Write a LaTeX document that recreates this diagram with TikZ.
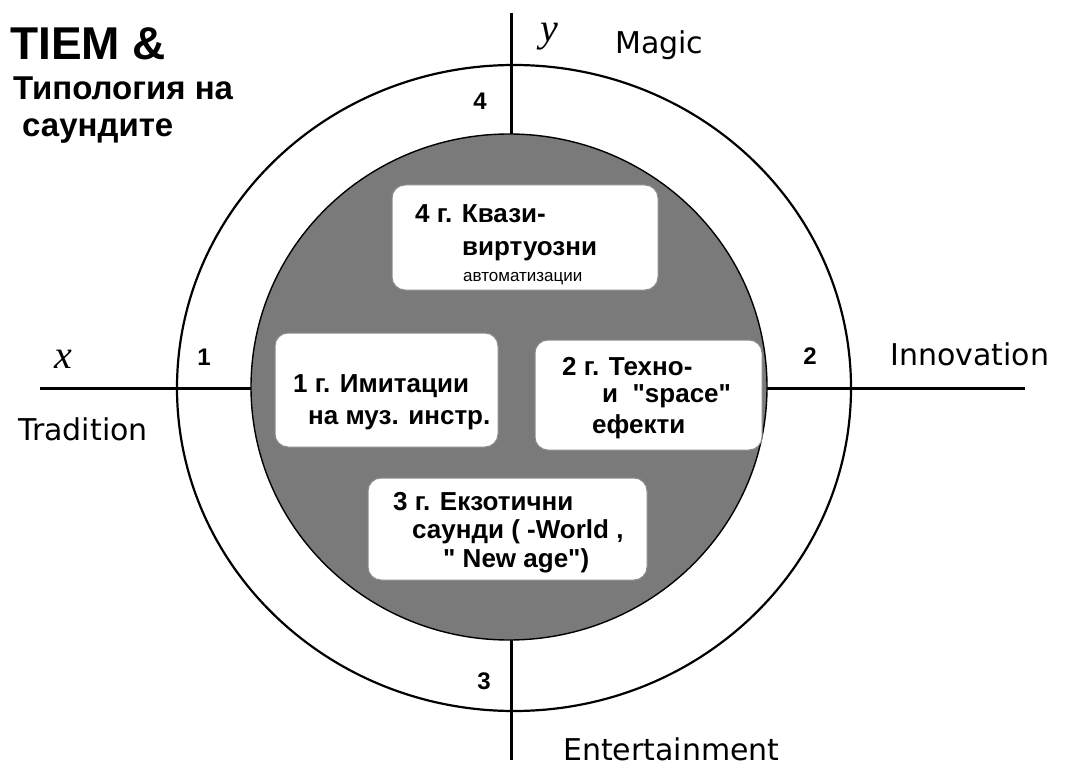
\documentclass[tikz,border=0pt]{standalone}
\usepackage{fontspec}
\setmainfont{Liberation Sans}
% plain family: keeps " as a straight quote
\newfontfamily\basefont{Liberation Sans}
\newfontfamily\lblfont{DejaVu Sans}
\newfontfamily\varfont{Liberation Serif}
\begin{document}
\begin{tikzpicture}[x=1pt,y=-1pt,
  axisline/.style={line width=3pt},
  ring/.style={line width=2.2pt},
  core/.style={draw=black,line width=1.4pt,fill=black!52},
  groupbox/.style={draw=black!45,line width=1pt,fill=white,rounded corners=13pt,
    rectangle,inner sep=0pt},
  title/.style={anchor=base west,inner sep=0pt,font=\basefont\bfseries\fontsize{46}{50}\selectfont},
  subtitle/.style={anchor=base west,inner sep=0pt,font=\basefont\bfseries\fontsize{33}{36}\selectfont},
  boxtext/.style={anchor=base west,inner sep=0pt,font=\basefont\bfseries\fontsize{26}{28}\selectfont},
  smalltext/.style={anchor=base west,inner sep=0pt,font=\basefont\fontsize{17}{19}\selectfont},
  pole/.style={anchor=base west,inner sep=0pt,font=\lblfont\fontsize{30}{33}\selectfont},
  quadnum/.style={inner sep=0pt,font=\basefont\bfseries\fontsize{24}{26}\selectfont},
  axisname/.style={anchor=base,inner sep=0pt,font=\varfont\itshape\fontsize{40}{42}\selectfont}]
\useasboundingbox (0,0) rectangle (1065,767);

% axes
\coordinate (xl) at (40,388);
\coordinate (xr) at (1025,388);
\coordinate (yt) at (511,13);
\coordinate (yb) at (511,760);
\draw[axisline] (xl) -- (xr);
\draw[axisline] (yt) -- (yb);

% outer ring and shaded core
\draw[ring] (514,388) ellipse [x radius=337pt, y radius=323pt];
\fill[core] (509,387) ellipse [x radius=258pt, y radius=253pt];

% group boxes
\node[groupbox,minimum width=266pt,minimum height=105pt] (g4) at (525,237.5) {};
\node[groupbox,minimum width=223pt,minimum height=114pt] (g1) at (386.5,390) {};
\node[groupbox,minimum width=227pt,minimum height=110pt] (g2) at (648.5,395) {};
\node[groupbox,minimum width=279pt,minimum height=102pt] (g3) at (507.5,529) {};

% group texts
\node[boxtext] (g4a) at (415,223) {4 г. Квази-};
\node[boxtext] (g4b) at (462,256) {виртуозни};
\node[smalltext] (g4c) at (463,281) {автоматизации};

\node[boxtext] (g1a) at (293,392) {1 г. Имитации};
\node[boxtext] (g1b) at (308,424) {на муз. инстр.};

\node[boxtext] (g2a) at (562,375) {2 г. Техно-};
\node[boxtext] (g2b) at (602,402) {и\ \ "space"};
\node[boxtext] (g2c) at (592,433) {ефекти};

\node[boxtext] (g3a) at (393,510) {3 г. Екзотични};
\node[boxtext] (g3b) at (412,538) {саунди ( -World ,};
\node[boxtext] (g3c) at (443,567) {" New age")};

% title
\node[title] (t1) at (10,60) {TIEM \&};
\node[subtitle] (t2) at (13,100) {Типология на};
\node[subtitle] (t3) at (22,137) {саундите};

% quadrant numbers
\node[quadnum] (q1) at (204,357) {1};
\node[quadnum] (q2) at (810,356) {2};
\node[quadnum] (q3) at (484,681) {3};
\node[quadnum] (q4) at (480,101) {4};

% axis names and poles
\node[axisname] (ax) at (63,368) {x};
\node[axisname] (ay) at (549,42) {y};
\node[pole] (pt) at (18,440) {Tradition};
\node[pole] (pi) at (890,365) {Innovation};
\node[pole] (pm) at (615,54) {Magic};
\node[pole] (pe) at (563,760) {Entertainment};
\end{tikzpicture}
\end{document}
